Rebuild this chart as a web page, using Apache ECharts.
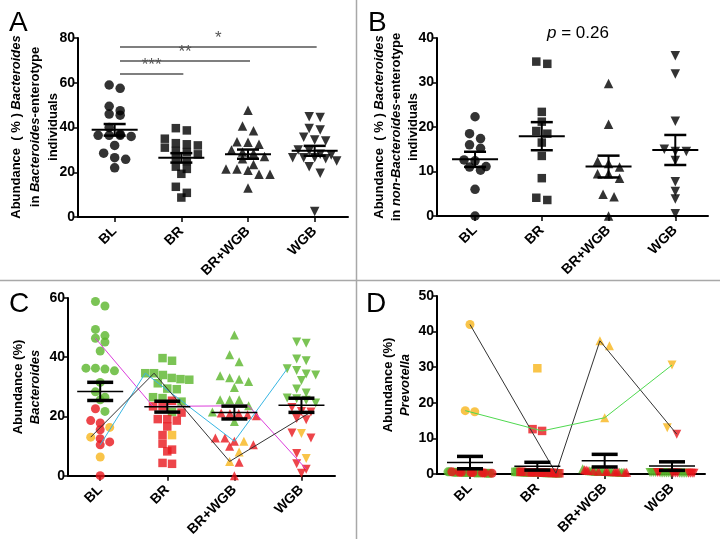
<!DOCTYPE html>
<html><head><meta charset="utf-8">
<script src="https://cdn.jsdelivr.net/npm/echarts@6/dist/echarts.min.js"></script>
<style>html,body{margin:0;padding:0;background:#fff}#c{width:720px;height:539px}</style>
</head><body><div id="c"></div>
<script>
// ---------- data ----------
const categories = ['BL', 'BR', 'BR+WGB', 'WGB'];
const yTicksA = [0, 80, 20];
const yTicksB = [0, 40, 10];
const yTicksC = [0, 60, 20];
const yTicksD = [0, 50, 10];

// Panel A: Bacteroides in Bacteroides-enterotype individuals
const aBL = [59, 57.5, 49.5, 47.5, 46, 45.5, 40, 37, 36.5, 36.5, 36.5, 36, 32, 28.5, 26.5, 25.8, 22];
const aBR = [39.7, 38.7, 35, 33, 32.5, 32, 31, 29.5, 29, 28, 26, 25, 22.5, 21.5, 19.3, 13.5, 10.8, 8.7];
const aBRWGB = [47.7, 40.7, 38.5, 33.6, 33.4, 32.5, 30, 29, 28.5, 27, 26, 23.5, 21.5, 21.5, 20.9, 19.1, 19.1, 13];
const aWGB = [44.8, 44.5, 39.6, 38.9, 35.6, 34.4, 34, 30, 29.6, 28, 27.7, 26.5, 26.5, 26.5, 26, 25, 22.5, 19.5, 2.5];
const sigBars = [['***', 2, 64], ['**', 3, 70], ['*', 4, 76]];

// Panel B: Bacteroides in non-Bacteroides-enterotype individuals
const bBL = [22.3, 18.5, 17.4, 16, 15.2, 12.6, 12.4, 11.1, 11, 10.3, 6, 0];
const bBR = [34.7, 34.2, 23.4, 21.2, 19.1, 18.5, 16.5, 13.5, 8.5, 4.1, 3.6];
const bBRWGB = [29.8, 20.6, 12.3, 11.8, 11, 9.5, 9.5, 8.5, 4.9, 4.3, 0];
const bWGB = [36, 31.9, 21.3, 15, 14.5, 14.5, 12.5, 7.7, 5.5, 3.8, 0.5];
const pText = '0.26';

// Panel C: Bacteroides, coloured by enterotype (per group: BL, BR, BR+WGB, WGB)
const cGreen = [
  [58.8, 57.3, 49.4, 47.3, 46.4, 45.1, 42.1, 36.3, 36.3, 36, 35.4, 31.5, 28.3, 26.5, 25.6, 21.7],
  [39.7, 38.8, 34.6, 34.6, 34, 33, 32.6, 32.4, 31.2, 29.4, 29.2, 26.5, 26.2, 25, 21.5],
  [47.5, 40.8, 38.5, 33.7, 33.1, 32.6, 31.8, 29.8, 25.6, 25.6, 25.6, 23.6, 21.5, 18.3],
  [45.1, 44.7, 39.4, 38.8, 36.1, 35.5, 34.3, 34, 32.1, 29.3, 27.9, 26.2, 26, 25.5, 24.5]
];
const cRed = [
  [22.6, 18.6, 17.8, 15.5, 12.5, 11.4, 10.4, 0],
  [25.3, 23.4, 23.4, 21.3, 19.1, 19.1, 18.6, 16.6, 13.7, 10.8, 8.8, 8.2, 4.3, 4.0],
  [21.2, 21, 21, 20.6, 20.2, 12.7, 12.7, 11.6, 10.4, 9.9, 4.5, 0],
  [23, 21.7, 21.5, 19.3, 18.9, 14.4, 12.7, 7.5, 4.0, 2.2, 0.8]
];
const cOrange = [
  [16.3, 13, 6.3],
  [13.7],
  [11.6, 8, 4.8],
  [14.2, 5.8]
];
const cLineMagenta = [46.4, 23.4, 23.6, 2.2];
const cLineCyan = [10.4, 34.6, 11.6, 36.1];
const cLineBlack = [13, 34.6, 4.8, 21.5];

// Panel D: Prevotella
const dGreen = [
  [0.5, 0.3, 0.4, 0.2, 0.6, 0.3, 0.5, 0.2, 0.4, 0.3, 0.5, 0.2, 0.4, 0.6, 0.3, 0.4],
  [0.5, 0.3, 0.6, 0.4, 0.2, 0.5, 0.3, 0.6, 0.4, 0.5, 0.2, 0.3, 0.6, 0.4, 0.5],
  [1.5, 0.6, 0.8, 0.5, 0.7, 0.9, 0.6, 0.5, 0.8, 0.7, 0.6, 0.9, 0.5, 0.7],
  [0.3, 0.2, 0.4, 0.3, 0.2, 0.3, 0.4, 0.2, 0.3, 0.2, 0.4, 0.3, 0.2, 0.3, 0.4]
];
const dRed = [
  [0.4, 0.3, 0.5, 0.2, 0.6, 0.3, 0.4, 0.5],
  [12.6, 12.1, 0.5, 0.3, 0.4, 0.6, 0.2, 0.5, 0.4, 0.3, 0.6, 0.5, 0.4, 0.3],
  [1.2, 0.6, 0.8, 0.5, 0.7, 1.0, 0.6, 0.5, 0.9, 0.7, 0.6, 1.1],
  [11.2, 0.3, 0.2, 0.3, 0.4, 0.2, 0.3, 0.2, 0.4, 0.3, 0.2]
];
const dOrange = [
  [42, 17.8, 17.5],
  [29.7],
  [37.4, 36, 15.8],
  [30.6, 13]
];
const dLineBlack = [42, 0.2, 37.4, 11.2];
const dLineGreen = [17.8, 12.1, 15.8, 30.6];

// axis titles: each line is a list of [text, italic] pieces
const yTitlesA = [[['Abundance  ( % ) ', 0], ['Bacteroides', 1]], [['in ', 0], ['Bacteroides', 1], ['-enterotype', 0]], [['individuals', 0]]];
const yTitlesB = [[['Abundance  ( % ) ', 0], ['Bacteroides', 1]], [['in ', 0], ['non-Bacteroides', 1], ['-enterotype', 0]], [['individuals', 0]]];
const yTitlesC = [[['Abundance (%)', 0]], [['Bacteroides', 1]]];
const yTitlesD = [[['Abundance (%)', 0]], [['Prevotella', 1]]];

// ---------- layout / style ----------
const GREEN = '#5ab52b', RED = '#e8161d', ORANGE = '#f8b51c';
const SYMBOLS = ['circle', 'rect', 'triangle', 'triangle'];
const ROTS = [0, 0, 0, 180];
const grids = [
  {left: 78, top: 38, width: 270, height: 179, xmin: 0.45, xmax: 4.5},
  {left: 437, top: 38, width: 271, height: 178, xmin: 0.43, xmax: 4.49},
  {left: 68, top: 298, width: 267, height: 178, xmin: 0.52, xmax: 4.5},
  {left: 437, top: 296, width: 268, height: 178, xmin: 0.51, xmax: 4.49}
];
const titlePos = [[35, 127, 18.5], [396.5, 127, 17], [26.5, 387, 17], [396.5, 385, 17]];
const yTicks = [yTicksA, yTicksB, yTicksC, yTicksD];
const yTitles = [yTitlesA, yTitlesB, yTitlesC, yTitlesD];

// Prism-like row spreading of points within a column
function spread(points, gi, pxX, pxY, step, maxHalf, rowPx) {
  const order = points.map((p, i) => i).sort((a, b) => points[b].v - points[a].v || a - b);
  let i = 0;
  while (i < order.length) {
    const top = points[order[i]].v;
    let j = i;
    while (j < order.length && (top - points[order[j]].v) * pxY < rowPx) j++;
    const m = j - i;
    const sp = m > 1 ? Math.min(step, 2 * maxHalf / (m - 1)) : 0;
    for (let r = 0; r < m; r++) {
      points[order[i + r]].x = gi + 1 + (r - (m - 1) / 2) * sp / pxX;
    }
    i = j;
  }
  return points;
}
function pxScales(k) {
  const g = grids[k];
  return [g.width / (g.xmax - g.xmin), g.height / (yTicks[k][1] - yTicks[k][0])];
}
function meanSem(vals) {
  const n = vals.length;
  const m = vals.reduce((a, b) => a + b, 0) / n;
  const sd = Math.sqrt(vals.reduce((a, b) => a + (b - m) * (b - m), 0) / (n - 1));
  return [m, sd / Math.sqrt(n)];
}

const series = [];
const fontNarrow = '"Liberation Sans Narrow", "Liberation Sans", Arial, sans-serif';
const fontSans = '"Liberation Sans", Arial, sans-serif';

function errSeries(k, groups, meanW, capW, capHalf) {
  const data = groups.map((vals, gi) => { const ms = meanSem(vals); return [gi + 1, ms[0], ms[1]]; });
  series.push({
    type: 'custom', xAxisIndex: k, yAxisIndex: k, z: 5, silent: true, clip: false,
    data: data,
    renderItem: function (params, api) {
      const x = api.value(0), m = api.value(1), s = api.value(2);
      const pm = api.coord([x, m]), pu = api.coord([x, m + s]), pl = api.coord([x, m - s]);
      const st = (w) => ({stroke: '#000', lineWidth: w});
      return {type: 'group', children: [
        {type: 'line', shape: {x1: pm[0] - 23, y1: pm[1], x2: pm[0] + 23, y2: pm[1]}, style: st(meanW)},
        {type: 'line', shape: {x1: pu[0], y1: pu[1], x2: pl[0], y2: pl[1]}, style: st(2)},
        {type: 'line', shape: {x1: pu[0] - capHalf, y1: pu[1], x2: pu[0] + capHalf, y2: pu[1]}, style: st(capW)},
        {type: 'line', shape: {x1: pl[0] - capHalf, y1: pl[1], x2: pl[0] + capHalf, y2: pl[1]}, style: st(capW)}
      ]};
    }
  });
}

// Panels A and B (black markers)
[[aBL, aBR, aBRWGB, aWGB], [bBL, bBR, bBRWGB, bWGB]].forEach((groups, k) => {
  const [pxX, pxY] = pxScales(k);
  groups.forEach((vals, gi) => {
    const pts = spread(vals.map(v => ({v: v})), gi, pxX, pxY, 11, 22, 7);
    series.push({
      type: 'scatter', xAxisIndex: k, yAxisIndex: k, z: 2, clip: false,
      symbol: SYMBOLS[gi], symbolRotate: ROTS[gi], symbolSize: gi === 1 ? 8.5 : 9.5,
      itemStyle: {color: '#000'},
      data: pts.map(p => [p.x, p.v])
    });
  });
  errSeries(k, groups, 2, 2.5, 11);
});

// Panels C and D (coloured markers + individual lines)
[[cGreen, cRed, cOrange, [[cLineMagenta, '#dc3ddc'], [cLineCyan, '#37b6e3'], [cLineBlack, '#333']]],
 [dGreen, dRed, dOrange, [[dLineBlack, '#333'], [dLineGreen, '#4fd94f']]]].forEach((set, idx) => {
  const k = idx + 2;
  const [pxX, pxY] = pxScales(k);
  const colors = [GREEN, RED, ORANGE];
  const allGroups = [];
  for (let gi = 0; gi < 4; gi++) {
    let pts = [];
    for (let c = 0; c < 3; c++) set[c][gi].forEach(v => pts.push({v: v, c: c}));
    pts = spread(pts, gi, pxX, pxY, 9.5, 22, 7);
    allGroups.push(pts);
    for (let c = 0; c < 3; c++) {
      series.push({
        type: 'scatter', xAxisIndex: k, yAxisIndex: k, z: 2, clip: false,
        symbol: SYMBOLS[gi], symbolRotate: ROTS[gi], symbolSize: gi === 1 ? 8.5 : 9,
        itemStyle: {color: colors[c]},
        data: pts.filter(p => p.c === c).map(p => [p.x, p.v])
      });
    }
  }
  // individual trajectories
  set[3].forEach(([vals, col]) => {
    const lineData = vals.map((v, gi) => {
      let best = null, bd = 1e9;
      allGroups[gi].forEach(p => { if (!p.used && Math.abs(p.v - v) < bd) { bd = Math.abs(p.v - v); best = p; } });
      best.used = true;
      return [best.x, best.v];
    });
    series.push({
      type: 'line', xAxisIndex: k, yAxisIndex: k, z: 4, silent: true, symbol: 'none',
      lineStyle: {color: col, width: 1}, data: lineData
    });
  });
  errSeries(k, [0, 1, 2, 3].map(gi => allGroups[gi].map(p => p.v)), 1.5, 3.5, 13);
});

// significance bars in A
series.push({
  type: 'line', xAxisIndex: 0, yAxisIndex: 0, data: [], symbol: 'none',
  markLine: {
    silent: true, symbol: ['none', 'none'], animation: false,
    lineStyle: {color: '#555', width: 1.5, type: 'solid'},
    label: {show: true, position: 'middle', formatter: '{b}', color: '#555', fontSize: 17, distance: 0},
    data: sigBars.map(s => [{name: s[0], coord: [1.08, s[2]]}, {coord: [s[1] + 0.03, s[2]]}])
  }
});

// rotated axis titles: measure pieces, lay them out centred along the axis
const measureCtx = document.createElement('canvas').getContext('2d');
function fontOf(it) { return (it ? 'italic ' : '') + 'bold 13px "Liberation Sans", Arial, sans-serif'; }
const titleGraphics = [];
yTitles.forEach((lines, k) => {
  const [cx, cy, lh] = titlePos[k];
  lines.forEach((pieces, j) => {
    const widths = pieces.map(p => { measureCtx.font = fontOf(p[1]); return measureCtx.measureText(p[0]).width; });
    const total = widths.reduce((a, b) => a + b, 0);
    const x = cx + (j - (lines.length - 1) / 2) * lh;
    let yStart = cy + total / 2; // text runs bottom -> top
    pieces.forEach((p, q) => {
      titleGraphics.push({
        type: 'text', x: x, y: yStart, rotation: Math.PI / 2,
        style: {text: p[0], font: fontOf(p[1]), fill: '#000', align: 'left', verticalAlign: 'middle'}
      });
      yStart -= widths[q];
    });
  });
});

const option = {
  animation: false,
  backgroundColor: '#fff',
  grid: grids.map(g => ({left: g.left, top: g.top, width: g.width, height: g.height, containLabel: false})),
  xAxis: grids.map((g, k) => ({
    type: 'value', gridIndex: k, min: g.xmin, max: g.xmax,
    axisLine: {show: true, onZero: false, lineStyle: {color: '#000', width: 2}},
    axisTick: {show: true, customValues: [1, 2, 3, 4], length: 5, lineStyle: {color: '#000', width: 1.5}},
    axisLabel: {
      show: true, customValues: [1, 2, 3, 4], rotate: 45, margin: 12,
      formatter: v => categories[Math.round(v) - 1] || '',
      color: '#000', fontFamily: fontSans, fontWeight: 'bold', fontSize: 14
    },
    splitLine: {show: false}
  })),
  yAxis: grids.map((g, k) => ({
    type: 'value', gridIndex: k, min: yTicks[k][0], max: yTicks[k][1], interval: yTicks[k][2],
    axisLine: {show: true, lineStyle: {color: '#000', width: 2}},
    axisTick: {show: true, length: 4, lineStyle: {color: '#000', width: 1.5}},
    axisLabel: {color: '#000', fontFamily: fontNarrow, fontWeight: 'bold', fontSize: 14, margin: 3},
    splitLine: {show: false}
  })),
  graphic: [
    {type: 'line', shape: {x1: 356.5, y1: 0, x2: 356.5, y2: 539}, style: {stroke: '#a8a8a8', lineWidth: 1.5}},
    {type: 'line', shape: {x1: 0, y1: 280.5, x2: 720, y2: 280.5}, style: {stroke: '#a8a8a8', lineWidth: 1.5}},
    {type: 'text', left: 9, top: 9, style: {text: 'A', font: '28px "Liberation Sans", Arial', fill: '#000'}},
    {type: 'text', left: 368, top: 9, style: {text: 'B', font: '28px "Liberation Sans", Arial', fill: '#000'}},
    {type: 'text', left: 9, top: 290, style: {text: 'C', font: '28px "Liberation Sans", Arial', fill: '#000'}},
    {type: 'text', left: 366, top: 290, style: {text: 'D', font: '28px "Liberation Sans", Arial', fill: '#000'}},
    {type: 'text', x: 578, y: 33, style: {
      text: '{i|p} = ' + pText, align: 'center', verticalAlign: 'middle',
      rich: {i: {fontStyle: 'italic', fontSize: 17, fontFamily: fontSans, fill: '#000'}},
      fontSize: 17, fontFamily: fontSans, fill: '#000'
    }}
  ].concat(titleGraphics),
  series: series
};
const chart = echarts.init(document.getElementById('c'), null, {renderer: 'canvas'});
chart.setOption(option);
</script></body></html>
